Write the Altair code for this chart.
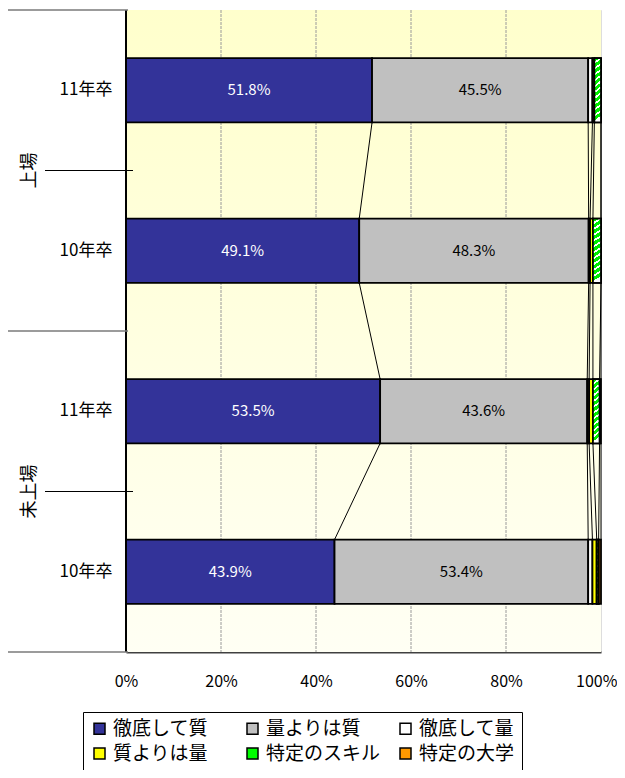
import altair as alt
import pandas as pd

# ---- data ----
groups = ["上場", "上場", "未上場", "未上場"]
years = ["11年卒", "10年卒", "11年卒", "10年卒"]
series = ["徹底して質", "量よりは質", "徹底して量", "質よりは量", "特定のスキル", "特定の大学"]
colors = ["#333399", "#C0C0C0", "#FFFFFF", "#FFFF00", "#00FF00", "#FF9900"]
v_teitei_shitsu = [51.8, 49.1, 53.5, 43.9]
v_ryo_yori_shitsu = [45.5, 48.3, 43.6, 53.4]
v_teitei_ryo = [0.9, 0.3, 0.4, 0.9]
v_shitsu_yori_ryo = [0.4, 0.6, 0.8, 0.9]
v_skill = [1.4, 1.7, 1.4, 0.4]
v_daigaku = [0.0, 0.0, 0.3, 0.5]
x_ticks = [0, 20, 40, 60, 80, 100]

values = [v_teitei_shitsu, v_ryo_yori_shitsu, v_teitei_ryo,
          v_shitsu_yori_ryo, v_skill, v_daigaku]

FONT = "Noto Sans CJK JP"
W, H = 475, 642
n = len(years)
BAR_TOP, BAR_BOT = 0.3, 0.7  # band layout (fraction of a category step)

# ---- derived tables ----
bar_rows = []
ends = []
for i in range(n):
    start = 0.0
    e = []
    for s, name in enumerate(series):
        v = values[s][i]
        bar_rows.append(dict(idx=i, series=name, sidx=s, start=start,
                             end=start + v, value=v,
                             label=f"{v:.1f}%"))
        start += v
        e.append(start)
    ends.append(e)
bars = pd.DataFrame(bar_rows)

line_rows = []
for i in range(n - 1):
    for s in range(len(series)):
        gid = f"{i}-{s}"
        line_rows.append(dict(gid=gid, o=0, x=ends[i][s], pos=i, edge=BAR_BOT))
        line_rows.append(dict(gid=gid, o=1, x=ends[i + 1][s], pos=i + 1, edge=BAR_TOP))
lines = pd.DataFrame(line_rows)

bg = pd.DataFrame({"x0": [x_ticks[0]], "x1": [x_ticks[-1]], "y0": [0], "y1": [n]})
grid = pd.DataFrame({"t": x_ticks[1:-1], "y0": 0, "y1": n})
cats = pd.DataFrame({"idx": list(range(n)), "year": years})

grp_rows = []
for g in dict.fromkeys(groups):
    ids = [i for i, gg in enumerate(groups) if gg == g]
    grp_rows.append(dict(group=g, mid=(min(ids) + max(ids) + 1) / 2,
                         lo=min(ids), hi=max(ids) + 1))
grps = pd.DataFrame(grp_rows)
long_b = sorted(set([0] + list(grps["hi"])))
short_b = [i for i in range(1, n) if i not in long_b]
longs = pd.DataFrame({"b": long_b})
shorts = pd.DataFrame({"b": short_b})

last_tick = x_ticks[-1]
xscale = alt.Scale(domain=[x_ticks[0], x_ticks[-1]], nice=False, zero=False)
yscale = alt.Scale(domain=[0, n], reverse=True, nice=False, zero=False)
xaxis = alt.Axis(values=x_ticks, labelExpr="datum.value + '%'", grid=False,
                 ticks=False, domain=True, domainColor="#404040", domainWidth=2,
                 labelFontSize=16, labelFont=FONT, labelColor="black",
                 labelPadding=21, labelFlush=False, title=None,
                 labelAlign={"condition": {"test": f"datum.value == {last_tick}",
                                           "value": "right"}, "value": "center"},
                 labelOffset={"condition": {"test": f"datum.value == {last_tick}",
                                            "value": 16}, "value": 0})


def X(field):
    return alt.X(field, type="quantitative", scale=xscale, axis=xaxis)


def Y(field):
    return alt.Y(field, type="quantitative", scale=yscale, axis=None)


background = alt.Chart(bg).mark_rect(
    fill={"gradient": "linear", "x1": 0, "y1": 0, "x2": 0, "y2": 1,
          "stops": [{"offset": 0, "color": "#FFFFCC"},
                    {"offset": 1, "color": "#FFFFF4"}]}
).encode(x=X("x0"), x2="x1", y=Y("y0"), y2="y1")

grid_layer = alt.Chart(grid).mark_rule(color="#9a9a9a", strokeWidth=1,
                                       strokeDash=[3, 1]).encode(
    x=X("t"), y=Y("y0"), y2="y1")

series_lines = alt.Chart(lines).transform_calculate(
    yy="datum.pos + datum.edge"
).mark_line(color="black", strokeWidth=1).encode(
    x=X("x"), y=Y("yy"), detail="gid:N", order="o:Q")

bar_layer = alt.Chart(bars).transform_calculate(
    y0=f"datum.idx + {BAR_TOP}", y1=f"datum.idx + {BAR_BOT}"
).mark_rect(stroke="black", strokeWidth=1.8).encode(
    x=X("start"), x2="end", y=Y("y0"), y2="y1",
    color=alt.Color("series:N", sort=series,
                    scale=alt.Scale(domain=series, range=colors),
                    legend=alt.Legend(
                        title=None, orient="none", legendX=-43, legendY=702,
                        direction="horizontal", columns=3, gridAlign="all",
                        symbolType="square", symbolSize=121,
                        symbolStrokeColor="black", symbolStrokeWidth=1.5,
                        labelFontSize=19, labelFont=FONT, labelColor="black",
                        labelOffset=4, labelLimit=300, columnPadding=15,
                        rowPadding=5, padding=7, strokeColor="black",
                        fillColor="white")))

stripes = []
N = 11
for k in range(N):
    stripes.append({"offset": k / N, "color": "#00EE00"})
    stripes.append({"offset": (k + 0.65) / N, "color": "#00EE00"})
    stripes.append({"offset": (k + 0.65) / N, "color": "#FFFFFF"})
    stripes.append({"offset": (k + 1) / N, "color": "#FFFFFF"})
hatch = alt.Chart(bars).transform_filter(
    f"datum.series == '{series[4]}' && datum.value > 0"
).transform_calculate(
    y0=f"datum.idx + {BAR_TOP}", y1=f"datum.idx + {BAR_BOT}"
).mark_rect(stroke="black", strokeWidth=1.8,
            fill={"gradient": "linear", "x1": 0, "y1": 0, "x2": 0.078, "y2": 0.997,
                  "stops": stripes}).encode(
    x=X("start"), x2="end", y=Y("y0"), y2="y1")

labels = alt.Chart(bars).transform_filter("datum.sidx < 2").transform_calculate(
    mid="(datum.start + datum.end) / 2", yc="datum.idx + 0.5"
).mark_text(fontSize=15, font=FONT, baseline="middle", align="center").encode(
    x=X("mid"), y=Y("yc"), text="label:N",
    color=alt.condition("datum.sidx == 0", alt.value("white"), alt.value("black")))

left_axis = alt.Chart(bg).mark_rule(color="black", strokeWidth=2).encode(
    x=X("x0"), y=Y("y0"), y2="y1")

year_text = alt.Chart(cats).transform_calculate(yc="datum.idx + 0.5").mark_text(
    fontSize=17, font=FONT, align="center", baseline="middle", color="black"
).encode(x=alt.value(-40), y=Y("yc"), text="year:N")

group_text = alt.Chart(grps).mark_text(
    fontSize=18, font=FONT, align="center", baseline="middle", angle=270,
    color="black"
).encode(x=alt.value(-96), y=Y("mid"), text="group:N")

long_rules = alt.Chart(longs).mark_rule(color="#7a7a7a", strokeWidth=1.5).encode(
    x=alt.value(-118), x2=alt.value(2), y=Y("b"))
short_rules = alt.Chart(shorts).mark_rule(color="black", strokeWidth=1.2).encode(
    x=alt.value(-81), x2=alt.value(7), y=Y("b"))

chart = alt.layer(
    background, grid_layer, series_lines, bar_layer, hatch, labels,
    left_axis, year_text, group_text, long_rules, short_rules
).properties(
    width=W, height=H,
    autosize=alt.AutoSizeParams(type="none"),
    padding={"left": 118, "top": 2, "right": 16, "bottom": 118},
).configure_view(stroke="#8a8a8a", strokeWidth=2).configure(background="white")

chart.save("out.html", embed_options={"renderer": "svg", "actions": False})
